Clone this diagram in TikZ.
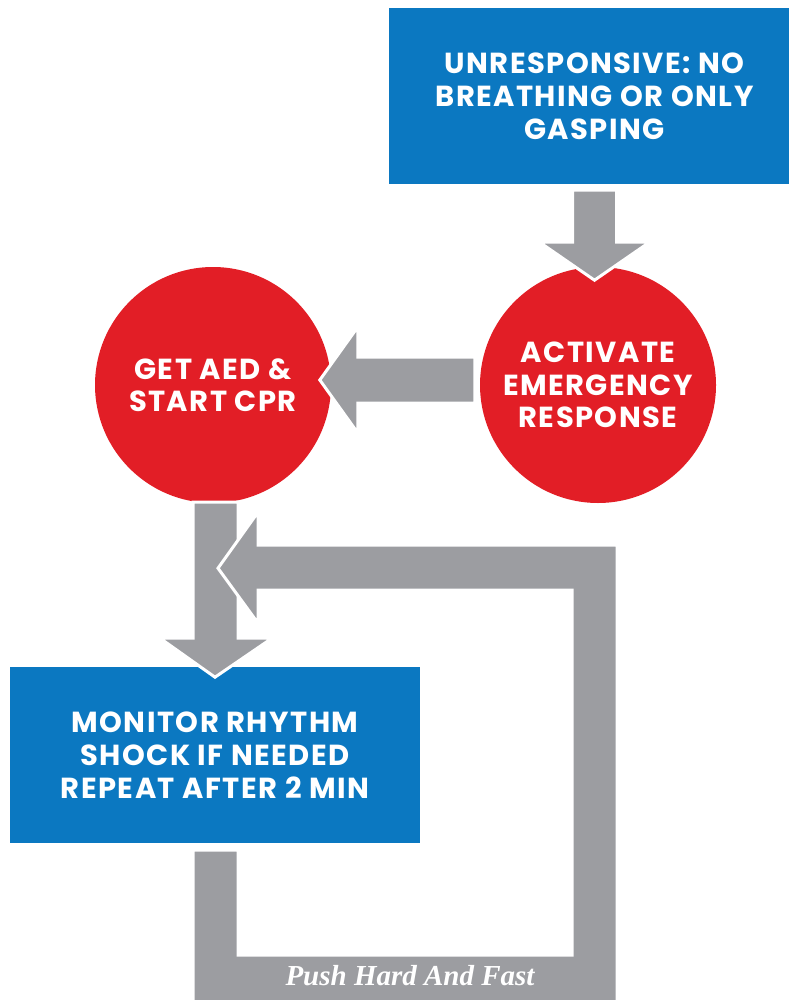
\documentclass[tikz,border=0pt]{standalone}
\usepackage{fontspec}
\setmainfont{Poppins}[LetterSpace=5]
\newfontfamily\slogan{Liberation Serif}
\usetikzlibrary{calc}
\definecolor{cprblue}{HTML}{0B78C1}
\definecolor{cprred}{HTML}{E21E26}
\definecolor{cprgray}{HTML}{9C9DA1}
\tikzset{
  box/.style={fill=cprblue, text=white, align=center, inner sep=0pt,
    font=\bfseries\fontsize{29}{33}\selectfont},
  disc/.style={circle, fill=cprred, text=white, align=center, inner sep=0pt,
    minimum size=236pt, font=\bfseries\fontsize{29}{32.5}\selectfont},
  flow/.style={fill=cprgray, draw=white, line width=3pt, line join=miter},
  motto/.style={text=white, font=\slogan\bfseries\itshape\fontsize{29}{32}\selectfont}
}
\begin{document}
\begin{tikzpicture}[x=1pt,y=-1pt]
\useasboundingbox (0,0) rectangle (788,1000);
\node[box, minimum width=411pt, minimum height=176pt] (start) at (594.5,96)
  {UNRESPONSIVE: NO\\BREATHING OR ONLY\\GASPING};
\node[disc] (act) at (598,385) {ACTIVATE\\EMERGENCY\\RESPONSE};
\node[disc] (aed) at (213,385) {GET AED \&\\START CPR};
\node[box, minimum width=410pt, minimum height=176pt] (monitor) at (215,755)
  {MONITOR RHYTHM\\SHOCK IF NEEDED\\REPEAT AFTER 2 MIN};
% start -> act
\draw[flow, shift={(start.south)}] (-22,6) -- (22,6) -- (22,58) -- (55,58) -- (0,96)
  -- (-55,58) -- (-22,58) -- cycle;
% act -> aed
\draw[flow, shift={(act.west)}] (-5,-28) -- (-5,18) -- (-122,18) -- (-122,48) -- (-160,-5)
  -- (-122,-58) -- (-122,-28) -- cycle;
% aed -> monitor
\draw[flow, shift={(aed.south)}] (-20,-1) -- (25,-1) -- (25,135) -- (59,135) -- (2,174)
  -- (-53,135) -- (-20,135) -- cycle;
% loop monitor -> back
\draw[flow, shift={(monitor.south)}] (-22,7) -- (-22,160) -- (402,160) -- (402,-298)
  -- (43,-298) -- (43,-331) -- (3,-275) -- (43,-220) -- (43,-253) -- (357,-253)
  -- (357,112) -- (23,112) -- (23,7) -- cycle;
\node[motto] (push) at (410,976) {Push Hard And Fast};
\end{tikzpicture}
\end{document}
